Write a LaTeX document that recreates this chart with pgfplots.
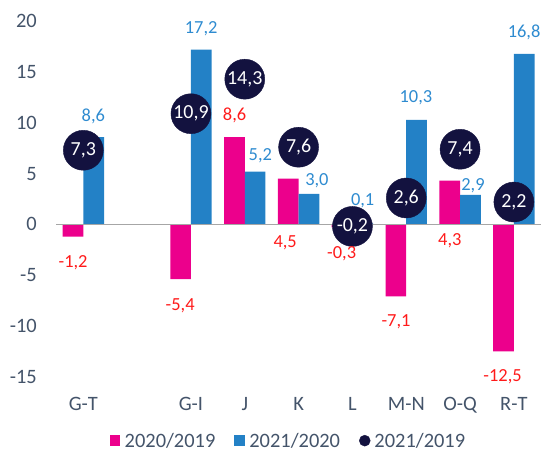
\documentclass[border=0pt]{standalone}
\usepackage{fontspec}
\setmainfont{Carlito}
\usepackage{pgfplots}
\pgfplotsset{compat=1.18}

\definecolor{pinkbar}{HTML}{EC008C}
\definecolor{bluebar}{HTML}{2381C6}
\definecolor{navy}{HTML}{13123F}
\definecolor{redlab}{HTML}{FF1A1A}
\definecolor{bluelab}{HTML}{2E8BD0}
\definecolor{slate}{HTML}{44546A}
\definecolor{zeroline}{HTML}{A6A6A6}

\begin{document}
\begin{tikzpicture}
\begin{axis}[
  scale only axis,
  width=484.4bp, height=355.4bp,
  xmin=-0.5, xmax=8.5,
  ymin=-15, ymax=20,
  clip=false,
  axis line style={draw=none},
  major tick length=0pt,
  xtick={0,2,3,4,5,6,7,8},
  xticklabels={G-T,G-I,J,K,L,M-N,O-Q,R-T},
  ytick={-15,-10,-5,0,5,10,15,20},
  yticklabels={-15,-10,-5,0,5,10,15,20},
  tick label style={font=\fontsize{20.5}{24}\selectfont, text=slate},
  yticklabel style={anchor=east, inner xsep=0pt, xshift=-19.4bp},
  xticklabel style={anchor=north, inner ysep=0pt, yshift=-20bp},
  legend columns=3,
  legend style={at={(0.479,-0.18)}, anchor=center, draw=none, fill=none,
    font=\fontsize{20.5}{24}\selectfont, text=slate,
    /tikz/every even column/.append style={column sep=17bp}},
]
% 2020/2019
\addplot[ybar, bar width=20.7bp, bar shift=-10.35bp, fill=pinkbar, draw=none,
  legend image code/.code={\fill[pinkbar] (0bp,-5.5bp) rectangle (10.5bp,5.5bp);
    \path (13bp,0bp);}]
  coordinates {(0,-1.2) (2,-5.4) (3,8.6) (4,4.5) (5,-0.3) (6,-7.1) (7,4.3) (8,-12.5)};
\addlegendentry{2020/2019}
% 2021/2020
\addplot[ybar, bar width=20.7bp, bar shift=10.35bp, fill=bluebar, draw=none,
  legend image code/.code={\fill[bluebar] (0bp,-5.5bp) rectangle (10.5bp,5.5bp);
    \path (13bp,0bp);}]
  coordinates {(0,8.6) (2,17.2) (3,5.2) (4,3.0) (5,0.1) (6,10.3) (7,2.9) (8,16.8)};
\addlegendentry{2021/2020}
% zero line
\addplot[forget plot, zeroline, line width=1.5bp, mark=none]
  coordinates {(-0.5,0) (8.5,0)};
% 2021/2019
\addplot[only marks, mark=*, mark size=20bp, mark options={fill=navy, draw=navy},
  nodes near coords, point meta=explicit symbolic,
  every node near coord/.append style={anchor=center, text=white,
    font=\fontsize{20}{24}\selectfont},
  legend image code/.code={\fill[navy] (5.5bp,0bp) circle (5.5bp);
    \path (13bp,0bp);}]
  coordinates {(0,7.3) [7,3] (2,10.9) [10,9] (3,14.3) [14,3] (4,7.6) [7,6]
    (5,-0.2) [-0,2] (6,2.6) [2,6] (7,7.4) [7,4] (8,2.2) [2,2]};
\addlegendentry{2021/2019}
% labels 2020/2019
\addplot[forget plot, draw=none, mark=none, nodes near coords,
  point meta=explicit symbolic,
  every node near coord/.append style={anchor=center, text=redlab,
    font=\fontsize{18.5}{22}\selectfont}]
  coordinates {(-0.19,-3.78) [-1,2] (1.80,-8.05) [-5,4] (2.81,10.74) [8,6]
    (3.75,-1.81) [4,5] (4.80,-2.86) [-0,3] (5.81,-9.60) [-7,1]
    (6.81,-1.65) [4,3] (7.79,-15.0) [-12,5]};
% labels 2021/2020
\addplot[forget plot, draw=none, mark=none, nodes near coords,
  point meta=explicit symbolic,
  every node near coord/.append style={anchor=center, text=bluelab,
    font=\fontsize{18.5}{22}\selectfont}]
  coordinates {(0.186,10.67) [8,6] (2.19,19.31) [17,2] (3.29,6.73) [5,2]
    (4.34,4.27) [3,0] (5.19,2.30) [0,1] (6.18,12.47) [10,3]
    (7.24,3.77) [2,9] (8.19,18.88) [16,8]};
\end{axis}
\pgfresetboundingbox
\useasboundingbox (-56.4bp,-74.3bp) rectangle (486.6bp,376.7bp);
\end{tikzpicture}
\end{document}
